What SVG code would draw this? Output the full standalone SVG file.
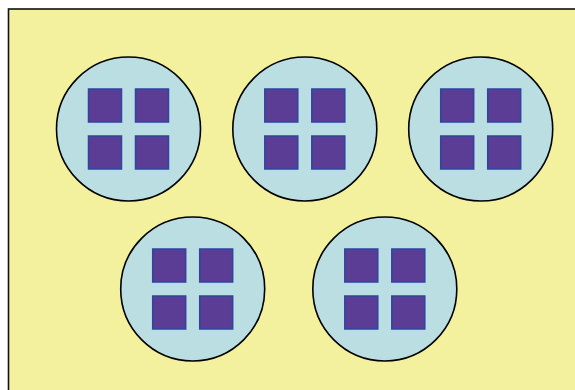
<svg xmlns="http://www.w3.org/2000/svg" width="575" height="390" viewBox="0 0 575 390">
<defs>
<style>
.bg{fill:#F4F19E;stroke:#111;stroke-width:1.6}
.c{fill:#BADEE2;stroke:#000;stroke-width:1.6}
.s{fill:#5B3D96;stroke:#2F45A0;stroke-width:1.5}
</style>
<g id="cell">
<circle class="c" cx="0" cy="0" r="72"/>
<rect class="s" x="-40" y="-40" width="33" height="33"/>
<rect class="s" x="7" y="-40" width="33" height="33"/>
<rect class="s" x="-40" y="7" width="33" height="33"/>
<rect class="s" x="7" y="7" width="33" height="33"/>
</g>
</defs>
<rect class="bg" x="8.5" y="9" width="600" height="420"/>
<g id="node1"><use href="#cell" x="128.5" y="129"/></g>
<g id="node2"><use href="#cell" x="304.8" y="129"/></g>
<g id="node3"><use href="#cell" x="480.7" y="129"/></g>
<g id="node4"><use href="#cell" x="192.7" y="289"/></g>
<g id="node5"><use href="#cell" x="384.8" y="289"/></g>
<g id="connectors"></g>
</svg>
